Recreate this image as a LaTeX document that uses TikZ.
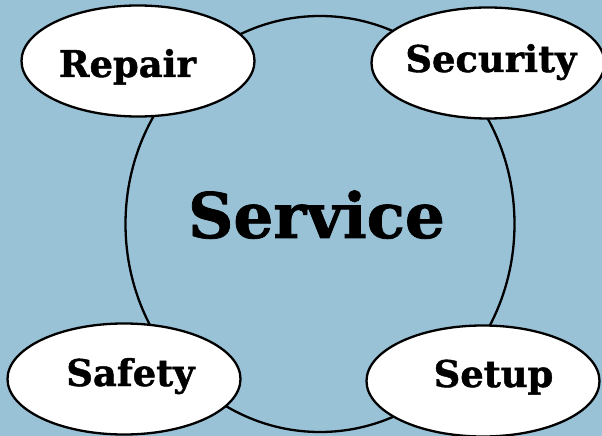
\documentclass[tikz,border=0pt]{standalone}
\usepackage{fontspec}
\setmainfont{DejaVu Serif}[BoldFeatures={FakeBold=1.2}]
\usetikzlibrary{shapes.geometric}
\definecolor{bgblue}{RGB}{153,194,214}
% shift the text inside an ellipse: #1 right (twice), #2 baseline up
\newcommand{\placetext}[3]{\makebox[0pt]{\hspace*{#1}\raisebox{#2}{#3}}}
\tikzset{
  topic/.style={draw,ellipse,fill=white,line width=2.3bp,inner sep=0pt,
    text height=0pt,text depth=0pt,
    minimum width=233bp,minimum height=111bp,font=\fontsize{37}{40}\selectfont\bfseries},
  hub/.style={draw,ellipse,line width=2.3bp,inner sep=0pt,
    text height=0pt,text depth=0pt,
    minimum width=389bp,minimum height=416bp,font=\fontsize{63}{66}\selectfont\bfseries}
}
\begin{document}
\begin{tikzpicture}[x=1bp,y=-1bp]
\fill[bgblue] (0,0) rectangle (602,436);
\useasboundingbox (0,0) rectangle (602,436);
\node[hub] (S) at (320,224) {\placetext{-7bp}{-14bp}{Service}};
\node[topic] (R1) at (138,61) {\placetext{-21bp}{-16bp}{Repair}};
\node[topic] (R2) at (488,63) {\placetext{6bp}{-9bp}{Security}};
\node[topic] (R3) at (124,379) {\placetext{13bp}{-7bp}{Safety}};
\node[topic] (R4) at (483,381) {\placetext{21bp}{-6bp}{Setup}};
\end{tikzpicture}
\end{document}
